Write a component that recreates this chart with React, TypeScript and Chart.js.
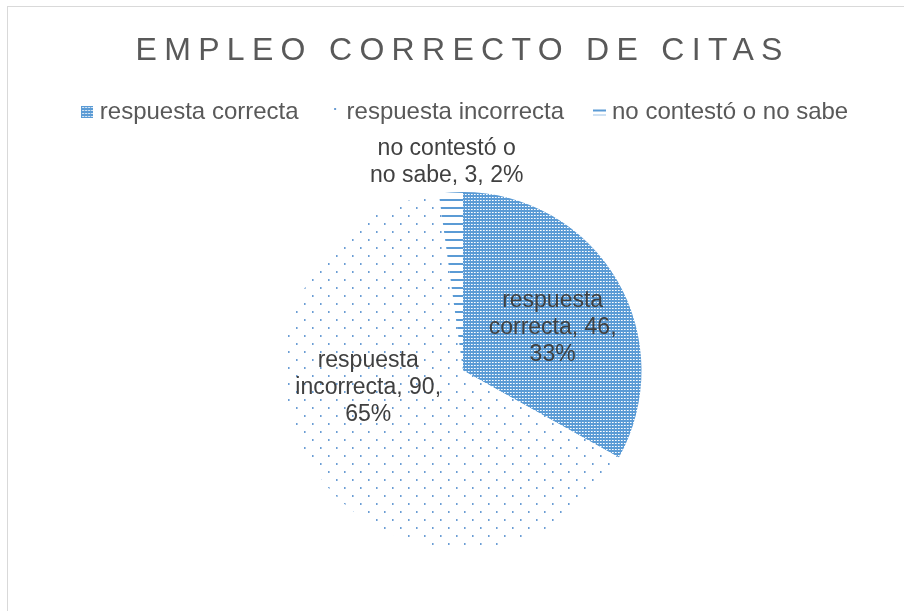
import React, { useEffect, useRef } from "react";
import { Chart, registerables } from "chart.js";

Chart.register(...registerables);

const TITLE = "EMPLEO CORRECTO DE CITAS";
const categories = ["respuesta correcta", "respuesta incorrecta", "no contestó o no sabe"];
const values = [46, 90, 3];

// label placement styles (relative to each slice's own geometry)
const labelRadius = [0.556, 0.54, 1.17];
const labelAngleShift = [5, 24, -0.6];

const FONT = '"Liberation Sans", Arial, sans-serif';
const LABEL_SIZE = 23;
const LABEL_LINE = 27;
const LABEL_WRAP = 165;
const LEGEND_SIZE = 24;
const LEGEND_PAD = 35;
const TITLE_SIZE = 32;
const TITLE_SPACING = 7.3;
const BLUE = "#5b9bd5";
const DOT = "#6b9dd3";

function wrapText(ctx: CanvasRenderingContext2D, text: string, maxW: number): string[] {
  const words = text.split(" ");
  const lines: string[] = [];
  let cur = "";
  for (const w of words) {
    const t = cur ? cur + " " + w : w;
    if (cur && ctx.measureText(t).width > maxW) {
      lines.push(cur);
      cur = w;
    } else cur = t;
  }
  if (cur) lines.push(cur);
  return lines;
}

function tile(w: number, h: number, draw: (g: CanvasRenderingContext2D) => void) {
  const c = document.createElement("canvas");
  c.width = w;
  c.height = h;
  const g = c.getContext("2d")!;
  draw(g);
  return c;
}

const drawGrid = (g: CanvasRenderingContext2D, w: number, h: number) => {
  g.fillStyle = BLUE;
  g.fillRect(0, 0, w, h);
  for (let y = 1; y < h; y += 3)
    for (let x = 1; x < w; x += 3) {
      g.fillStyle = "#ffffff";
      g.fillRect(x, y, 1, 1);
      g.fillStyle = "#c6dbf0";
      g.fillRect(x + 1, y, 1, 1);
    }
};

function makePatterns(ctx: CanvasRenderingContext2D) {
  const grid = tile(3, 3, (g) => drawGrid(g, 3, 3));
  const dots = tile(16, 16, (g) => {
    g.fillStyle = "#ffffff";
    g.fillRect(0, 0, 16, 16);
    g.fillStyle = "#a9c7e8";
    g.fillRect(0, 0, 2, 2);
    g.fillRect(8, 8, 2, 2);
    g.fillStyle = DOT;
    g.fillRect(0, 0, 1, 2);
    g.fillRect(8, 8, 1, 2);
  });
  const lines = tile(8, 8, (g) => {
    g.fillStyle = "#ffffff";
    g.fillRect(0, 0, 8, 8);
    g.fillStyle = BLUE;
    g.fillRect(0, 0, 8, 2);
  });
  return [grid, dots, lines].map((c) => ctx.createPattern(c, "repeat")!);
}

function makeIcons() {
  const gridIcon = tile(12, 12, (g) => drawGrid(g, 12, 12));
  const dotIcon = tile(12, 12, (g) => {
    g.fillStyle = DOT;
    g.fillRect(6, 2, 2, 2);
  });
  const lineIcon = tile(13, 13, (g) => {
    g.fillStyle = BLUE;
    g.fillRect(0, 4, 13, 2);
    g.fillStyle = "#9cc2e6";
    g.fillRect(0, 9, 13, 1);
  });
  return [gridIcon, dotIcon, lineIcon];
}

const legendSpacer = {
  id: "legendSpacer",
  beforeInit(chart: any) {
    const lg = chart.legend;
    if (!lg) return;
    const fit = lg.fit;
    lg.fit = function () {
      fit.bind(lg)();
      this.height += 58;
    };
  },
  afterLayout(chart: any) {
    const lg = chart.legend;
    if (!lg) return;
    lg.left += 4.5;
    lg.right += 4.5;
  },
};

const titlePlugin = {
  id: "spacedTitle",
  afterDraw(chart: any) {
    const ctx = chart.ctx as CanvasRenderingContext2D;
    ctx.save();
    ctx.font = `${TITLE_SIZE}px ${FONT}`;
    (ctx as any).letterSpacing = `${TITLE_SPACING}px`;
    ctx.fillStyle = "#595959";
    ctx.textAlign = "center";
    ctx.textBaseline = "middle";
    ctx.fillText(TITLE, 451 + TITLE_SPACING / 2, 44);
    ctx.restore();
  },
};

const labelPlugin = {
  id: "sliceLabels",
  afterDraw(chart: any) {
    const ctx = chart.ctx as CanvasRenderingContext2D;
    const meta = chart.getDatasetMeta(0);
    const total = values.reduce((a, b) => a + b, 0);
    ctx.save();
    ctx.font = `${LABEL_SIZE}px ${FONT}`;
    ctx.fillStyle = "#404040";
    ctx.textAlign = "center";
    ctx.textBaseline = "middle";
    meta.data.forEach((arc: any, i: number) => {
      const p = arc.getProps(["x", "y", "startAngle", "endAngle", "outerRadius"], true);
      const mid = (p.startAngle + p.endAngle) / 2 + (labelAngleShift[i] * Math.PI) / 180;
      const r = p.outerRadius * labelRadius[i];
      const cx = p.x + Math.cos(mid) * r;
      const cy = p.y + Math.sin(mid) * r;
      const text = `${categories[i]}, ${values[i]}, ${Math.round((values[i] / total) * 100)}%`;
      const lines = wrapText(ctx, text, LABEL_WRAP);
      lines.forEach((ln, k) => {
        ctx.fillText(ln, cx, cy + (k - (lines.length - 1) / 2) * LABEL_LINE);
      });
    });
    ctx.restore();
  },
};

export default function App() {
  const ref = useRef<HTMLCanvasElement>(null);
  useEffect(() => {
    const canvas = ref.current!;
    const ctx = canvas.getContext("2d")!;
    const patterns = makePatterns(ctx);
    const icons = makeIcons();
    const chart = new Chart(canvas, {
      type: "pie",
      data: {
        labels: categories,
        datasets: [
          {
            data: values,
            backgroundColor: patterns as any,
            borderWidth: 0,
          },
        ],
      },
      options: {
        responsive: false,
        animation: false,
        layout: { padding: { top: 58, left: 14, right: 0, bottom: 62 } },
        plugins: {
          title: { display: false },
          tooltip: { enabled: false },
          legend: {
            position: "top",
            labels: {
              usePointStyle: true,
              pointStyleWidth: 1,
              boxWidth: 13,
              boxHeight: 13,
              padding: LEGEND_PAD,
              color: "#595959",
              font: { family: FONT, size: LEGEND_SIZE },
              generateLabels: () =>
                categories.map((text, i) => ({
                  text,
                  fillStyle: "rgba(0,0,0,0)",
                  strokeStyle: "rgba(0,0,0,0)",
                  lineWidth: 0,
                  pointStyle: icons[i] as any,
                  fontColor: "#595959",
                  hidden: false,
                  index: i,
                })),
            },
          },
        },
      },
      plugins: [legendSpacer, titlePlugin, labelPlugin],
    });
    return () => chart.destroy();
  }, []);
  return (
    <div
      style={{
        position: "fixed",
        left: 7,
        top: 6,
        width: 896,
        height: 605,
        borderLeft: "1px solid #d9d9d9",
        borderTop: "1px solid #d9d9d9",
        background: "#ffffff",
      }}
    >
      <canvas ref={ref} width={896} height={604} style={{ display: "block" }} />
    </div>
  );
}
